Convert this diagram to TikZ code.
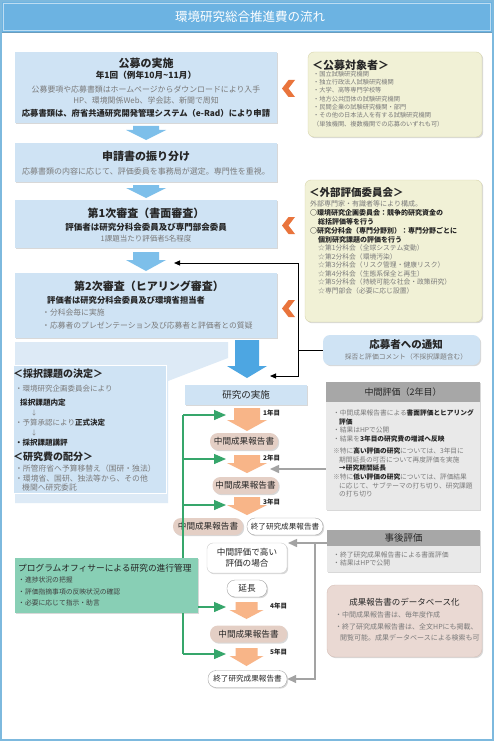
\documentclass[tikz,border=0pt]{standalone}
\usepackage{fontspec}
\setmainfont{Noto Sans CJK JP}
\usetikzlibrary{shadows,arrows.meta}
\definecolor{frameblue}{HTML}{7DB9DE}
\definecolor{titleblue}{HTML}{6CB3E2}
\definecolor{stepfill}{HTML}{CFE3F4}
\definecolor{arrowblue}{HTML}{7DBFEA}
\definecolor{arrowblue2}{HTML}{4DA6E2}
\definecolor{chev}{HTML}{E9743C}
\definecolor{yelfill}{HTML}{F1F1D6}
\definecolor{yelline}{HTML}{D8D6AE}
\definecolor{grayhead}{HTML}{A7A7A7}
\definecolor{graybody}{HTML}{E9E9E9}
\definecolor{pillfill}{HTML}{E4CFC5}
\definecolor{orangearr}{HTML}{F8B588}
\definecolor{greenline}{HTML}{36A66B}
\definecolor{pofill}{HTML}{88CFB5}
\definecolor{dbfill}{HTML}{EAD9D3}
\definecolor{dbline}{HTML}{D5BFB7}
\definecolor{txtgray}{HTML}{7A7A7A}
\definecolor{txtdark}{HTML}{262626}
\definecolor{paleblue}{HTML}{DDEAF6}
\definecolor{arrgray}{HTML}{A3A3A3}
\newcommand\fsz[2]{\fontsize{#1pt}{#2pt}\selectfont}
\newcommand\fatarr[7]{\fill[#7] ({#1-#5},#2) -- ({#1+#5},#2) -- ({#1+#5},#3) -- ({#1+#6},#3) -- (#1,#4) -- ({#1-#6},#3) -- ({#1-#5},#3) -- cycle;}
\newcommand\chevron[1]{\fill[chev] (295,#1) -- (288.5,#1) -- (282,{#1+8.5}) -- (288.5,{#1+17}) -- (295,{#1+17}) -- (288.5,{#1+8.5}) -- cycle;}
\begin{document}
\begin{tikzpicture}[x=1pt,y=-1pt,
  shd/.style={drop shadow={shadow xshift=1.2pt,shadow yshift=-1.2pt,opacity=0.3}},
  stepbox/.style={fill=stepfill,shd,inner sep=0},
  yelbox/.style={fill=yelfill,draw=yelline,rounded corners=6pt,shd,inner sep=0},
  graybox/.style={fill=graybody,shd,inner sep=0},
  pill/.style={rounded corners=8pt,fill=pillfill,shd,inner sep=0,minimum height=17pt,font=\fsz{8.6}{10},text=txtdark},
  wpill/.style={rounded corners=8pt,fill=white,draw=black!35,shd,inner sep=0,minimum height=17pt,font=\fsz{7.6}{9},text=txtdark},
  t/.style={inner sep=0,text=txtdark},
  tg/.style={inner sep=0,text=txtgray},
  w/.style={anchor=west},
  blk/.style={draw=black,line width=1pt,-{Triangle[length=6pt,width=5pt]}},
  gln/.style={draw=greenline,line width=1.3pt},
  garr/.style={draw=greenline,line width=1.3pt,-{Triangle[length=12pt,width=10pt]}},
  grarr/.style={draw=arrgray,line width=1.5pt,-{Triangle[length=9pt,width=8pt]}},
  yr/.style={inner sep=0,text=txtdark,font=\bfseries\fsz{6.5}{8},anchor=west}
]
\useasboundingbox (0,0) rectangle (494,741);
\fill[white] (0,0) rectangle (494,741);
\draw[frameblue,line width=2pt] (1,1) rectangle (493,740);
\fill[titleblue] (2,2) rectangle (492,32);
\draw[white!55!titleblue,line width=0.6pt] (3.5,3.5) rectangle (490.5,30.5);
\draw[frameblue!85!black,line width=0.8pt] (2,32.6) -- (492,32.6);
\node[inner sep=0,text=white,font=\fsz{12.5}{14}] (title) at (250,17) {環境研究総合推進費の流れ};

% ---- main steps
\node[stepbox,minimum width=262pt,minimum height=71pt] (kobo) at (146,87.5) {};
\node[t,font=\bfseries\fsz{11}{13}] at (146,63) {公募の実施};
\node[t,font=\bfseries\fsz{8.6}{10}] at (146,75.5) {年1回（例年10月\textasciitilde 11月）};
\node[tg,font=\fsz{7.9}{9}] at (146,89) {公募要項や応募書類はホームページからダウンロードにより入手};
\node[tg,font=\fsz{7.9}{9}] at (146,101) {HP、環境関係Web、学会誌、新聞で周知};
\node[t,font=\bfseries\fsz{8.3}{10}] at (146,113) {応募書類は、府省共通研究開発管理システム（e-Rad）により申請};
\fatarr{146}{126}{130}{140}{13}{20}{arrowblue}

\node[stepbox,minimum width=262pt,minimum height=39pt] (shinsei) at (146,162.5) {};
\node[t,font=\bfseries\fsz{11}{13}] at (146,156) {申請書の振り分け};
\node[tg,font=\fsz{8}{9}] at (146,171) {応募書類の内容に応じて、評価委員を事務局が選定。専門性を重視。};
\fatarr{146}{185}{188}{198}{13}{20}{arrowblue}

\node[stepbox,minimum width=262pt,minimum height=48pt] (shinsa1) at (146,224) {};
\node[t,font=\bfseries\fsz{11}{13}] at (146,213) {第1次審査（書面審査）};
\node[t,font=\bfseries\fsz{8.5}{10}] at (146,227) {評価者は研究分科会委員及び専門部会委員};
\node[tg,font=\fsz{7.5}{9}] at (146,238.5) {1課題当たり評価者5名程度};
\fatarr{146}{252}{260}{271}{13}{20}{arrowblue}

\node[stepbox,minimum width=262pt,minimum height=65pt] (shinsa2) at (146,305.5) {};
\node[t,font=\bfseries\fsz{11}{13}] at (149,286) {第2次審査（ヒアリング審査）};
\node[t,w,font=\bfseries\fsz{8.3}{10}] at (47,300) {評価者は研究分科会委員及び環境省担当者};
\node[tg,w,font=\fsz{7.8}{9}] at (42,313) {・分科会毎に実施};
\node[tg,w,font=\fsz{7.8}{9}] at (42,325.5) {・応募者のプレゼンテーション及び応募者と評価者との質疑};

\chevron{80}
\chevron{217}
\chevron{300}

% ---- selection area
\fill[paleblue] (15,342) -- (228,342) -- (228,358) -- (168,381) -- (168,503) -- (15,503) -- cycle;
\node[stepbox,draw=white,line width=0.8pt,minimum width=153pt,minimum height=128pt] (saitaku) at (89.5,429) {};
\fatarr{247}{340}{366}{378}{12}{20}{arrowblue2}
\node[t,w,font=\bfseries\fsz{10}{12}] at (13,374) {＜採択課題の決定＞};
\node[tg,w,font=\fsz{7.5}{9}] at (15,389) {・環境研究企画委員会により};
\node[t,w,font=\bfseries\fsz{7.6}{9}] at (20,402.5) {採択課題内定};
\node[tg,font=\fsz{6.5}{8}] at (34,413) {↓};
\node[tg,w,font=\fsz{7.5}{9}] at (15,422.5) {・予算承認により{\color{txtdark}\bfseries 正式決定}};
\node[tg,font=\fsz{6.5}{8}] at (34,433) {↓};
\node[t,w,font=\bfseries\fsz{7.5}{9}] at (15,443) {・採択課題講評};
\node[t,w,font=\bfseries\fsz{10}{12}] at (13,457) {＜研究費の配分＞};
\node[tg,w,font=\fsz{7.8}{9}] at (15,468.5) {・所管府省へ予算移替え（国研・独法）};
\node[tg,w,font=\fsz{7.8}{9}] at (15,478.5) {・環境省、国研、独法等から、その他};
\node[tg,w,font=\fsz{7.8}{9}] at (22,488) {機関へ研究委託};

% ---- research flow
\node[stepbox,minimum width=122pt,minimum height=20pt,font=\fsz{9.5}{11},text=txtdark] (jisshi) at (246,395) {研究の実施};
\fatarr{247}{408}{420}{431}{13}{20}{orangearr}
\node[yr] at (263,413) {1年目};
\node[pill,minimum width=68pt] (chukan1) at (244,441.5) {中間成果報告書};
\fatarr{247}{455}{463}{473}{13}{20}{orangearr}
\node[yr] at (263,458) {2年目};
\node[pill,minimum width=66pt] (chukan2) at (245.5,485.5) {中間成果報告書};
\fatarr{247}{497}{505}{515}{13}{20}{orangearr}
\node[yr] at (263,502) {3年目};
\node[pill,minimum width=70pt] (chukan3) at (208,526.5) {中間成果報告書};
\node[wpill,minimum width=76pt] (shuryo1) at (285,526.5) {終了研究成果報告書};
\node[rounded corners=6pt,fill=white,draw=black!20,shd,inner sep=0,minimum width=80pt,minimum height=30pt,align=center,font=\fsz{8.6}{11},text=txtdark] (takai) at (247,558) {中間評価で高い\\評価の場合};
\node[wpill,minimum width=40pt,font=\fsz{8.6}{10}] (encho) at (247,588.5) {延長};
\fatarr{246.5}{602}{610}{619}{11}{17}{orangearr}
\node[yr] at (270,606) {4年目};
\node[pill,minimum width=77pt] (chukan4) at (248.5,634) {中間成果報告書};
\fatarr{246.5}{648}{656}{666}{11}{17}{orangearr}
\node[yr] at (270,652) {5年目};
\node[wpill,minimum width=79pt] (shuryo2) at (247.5,679) {終了研究成果報告書};

% ---- program officer
\node[fill=pofill,shd,inner sep=0,minimum width=183pt,minimum height=55pt] (po) at (106.5,585.5) {};
\node[t,w,font=\fsz{8.7}{10}] at (18,568) {プログラムオフィサーによる研究の進行管理};
\node[t,w,font=\fsz{6.8}{8},text=black!75] at (18,580) {・進捗状況の把握};
\node[t,w,font=\fsz{6.8}{8},text=black!75] at (18,592) {・評価指摘事項の反映状況の確認};
\node[t,w,font=\fsz{6.8}{8},text=black!75] at (18,603) {・必要に応じて指示・助言};

% green connectors
\coordinate (gtop) at (183,415);
\coordinate (gbot) at (183,654);
\coordinate (g1) at (226,415);
\coordinate (g2) at (226,459);
\coordinate (g3) at (226,505);
\coordinate (g4) at (226,607);
\coordinate (g5) at (226,654);
\draw[gln] (gtop) -- (183,558);
\draw[gln] (183,613) -- (gbot);
\draw[garr] (gtop) -- (g1);
\draw[garr] (g2 -| gtop) -- (g2);
\draw[garr] (g3 -| gtop) -- (g3);
\draw[garr] (po.east |- g4) -- (g4);
\draw[garr] (gbot) -- (g5);

% ---- right column
\node[yelbox,minimum width=174pt,minimum height=85pt] (taisho) at (395,94.5) {};
\node[t,w,font=\bfseries\fsz{11}{13}] at (312,65) {＜公募対象者＞};
\foreach \s [count=\i] in {{・国立試験研究機関},{・独立行政法人試験研究機関},{・大学、高等専門学校等},{・地方公共団体の試験研究機関},{・民間企業の試験研究機関・部門},{・その他の日本法人を有する試験研究機関},{（単独機関、複数機関での応募のいずれも可）}}
  \node[tg,w,font=\fsz{6.2}{8}] at (313,{74+(\i-1)*8.3}) {\s};

\node[yelbox,minimum width=177pt,minimum height=142pt] (gaibu) at (393.5,251) {};
\node[t,w,font=\bfseries\fsz{10.5}{12}] at (309,193) {＜外部評価委員会＞};
\node[tg,w,font=\fsz{7}{8}] at (310,204) {外部専門家・有識者等により構成。};
\node[t,w,font=\bfseries\fsz{7}{8}] at (310,213) {○環境研究企画委員会：競争的研究資金の};
\node[t,w,font=\bfseries\fsz{7}{8}] at (318,222) {総括評価等を行う};
\node[t,w,font=\bfseries\fsz{7}{8}] at (310,231) {○研究分科会（専門分野別）：専門分野ごとに};
\node[t,w,font=\bfseries\fsz{7}{8}] at (318,239.5) {個別研究課題の評価を行う};
\foreach \s [count=\i] in {{☆第1分科会（全球システム変動）},{☆第2分科会（環境汚染）},{☆第3分科会（リスク管理・健康リスク）},{☆第4分科会（生態系保全と再生）},{☆第5分科会（持続可能な社会・政策研究）},{☆専門部会（必要に応じ設置）}}
  \node[tg,w,font=\fsz{6.8}{8}] at (318,{248+(\i-1)*8.6}) {\s};

\node[rounded corners=7pt,fill=stepfill,shd,inner sep=0,minimum width=157pt,minimum height=30pt] (tsuchi) at (401.5,350) {};
\node[t,font=\bfseries\fsz{10.5}{12}] at (406,344.5) {応募者への通知};
\node[tg,font=\fsz{6.8}{8}] at (406,356.5) {採否と評価コメント（不採択課題含む）};

% black connectors
\coordinate (bj) at (298,350);
\coordinate (bt1) at (174,263);
\coordinate (bt2) at (270,376);
\draw[line width=1pt] (tsuchi.west) -- (bj);
\draw[blk] (bj) |- (bt1);
\draw[blk] (bj) |- (bt2);

\node[graybox,minimum width=154pt,minimum height=128pt] (chukan) at (403,446) {};
\node[fill=grayhead,inner sep=0,minimum width=154pt,minimum height=20pt,font=\fsz{9}{11},text=txtdark] (chukanh) at (403,392) {中間評価（2年目）};
\node[tg,w,font=\fsz{6.7}{8}] at (333,413) {・中間成果報告書による{\color{txtdark}\bfseries 書面評価とヒアリング}};
\node[t,w,font=\bfseries\fsz{6.7}{8}] at (339,421.5) {評価};
\node[tg,w,font=\fsz{6.7}{8}] at (333,430) {・結果はHPで公開};
\node[tg,w,font=\fsz{6.7}{8}] at (333,438.5) {・結果を{\color{txtdark}\bfseries 3年目の研究費の増減へ反映}};
\node[tg,w,font=\fsz{6.7}{8}] at (333,451) {※特に{\color{txtdark}\bfseries 高い評価の研究}については、3年目に};
\node[tg,w,font=\fsz{6.7}{8}] at (339,459.5) {期間延長の可否について再度評価を実施};
\node[t,w,font=\bfseries\fsz{6.7}{8}] at (339,468) {→研究期間延長};
\node[tg,w,font=\fsz{6.7}{8}] at (333,477) {※特に{\color{txtdark}\bfseries 低い評価の研究}については、評価結果};
\node[tg,w,font=\fsz{6.7}{8}] at (339,485.5) {に応じて、サブテーマの打ち切り、研究課題};
\node[tg,w,font=\fsz{6.7}{8}] at (339,494) {の打ち切り};

\node[graybox,minimum width=153pt,minimum height=42pt] (jigo) at (403.5,551) {};
\node[fill=grayhead,inner sep=0,minimum width=153pt,minimum height=16pt,font=\fsz{9.5}{11},text=txtdark] (jigoh) at (403.5,538) {事後評価};
\node[tg,w,font=\fsz{6.8}{8}] at (333,554.5) {・終了研究成果報告書による書面評価};
\node[tg,w,font=\fsz{6.8}{8}] at (333,563) {・結果はHPで公開};

\node[rounded corners=8pt,fill=dbfill,draw=dbline,shd,inner sep=0,minimum width=155pt,minimum height=72pt] (db) at (404.5,621) {};
\node[t,font=\fsz{8.5}{10}] at (404.5,602) {成果報告書のデータベース化};
\node[tg,w,font=\fsz{7}{8}] at (335,615) {・中間成果報告書は、毎年度作成};
\node[tg,w,font=\fsz{7}{8}] at (335,627) {・終了研究成果報告書は、全文HPにも掲載、};
\node[tg,w,font=\fsz{7}{8}] at (340,637.5) {閲覧可能。成果データベースによる検索も可};

% gray connectors
\coordinate (ga1) at (270,469);
\coordinate (ga2) at (288,543);
\coordinate (gj) at (315,543);
\draw[grarr] (chukan.west |- ga1) -- (ga1);
\draw[grarr] (jigo.west |- ga2) -- (ga2);
\draw[grarr] (gj) |- (shuryo2.east);
\end{tikzpicture}
\end{document}
